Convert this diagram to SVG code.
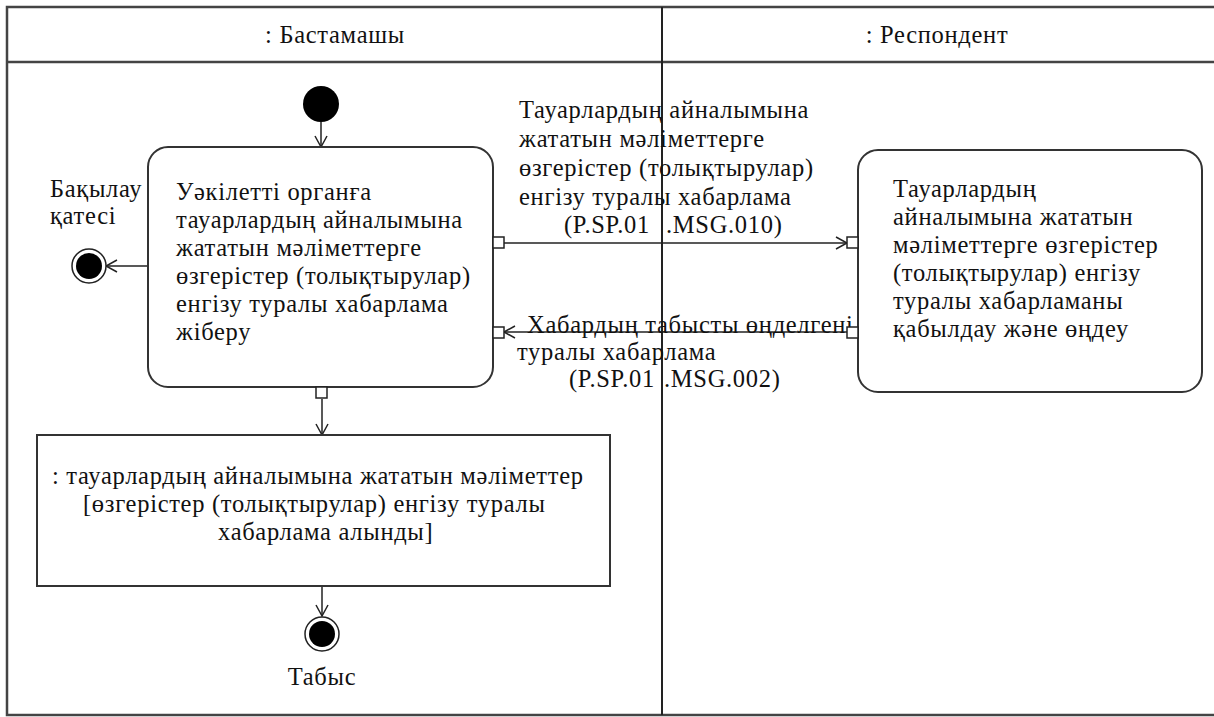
<svg xmlns="http://www.w3.org/2000/svg" width="1214" height="717" viewBox="0 0 1214 717">
<style>
.t{font-family:"Liberation Serif","Times New Roman",serif;font-size:24.5px;letter-spacing:0.7px;fill:#111}
.ln{stroke:#222;stroke-width:1.5;fill:none}
.box{fill:#fff;stroke:#333;stroke-width:2}
.port{fill:#fff;stroke:#222;stroke-width:1.5}
</style>
<defs>
<marker id="open" markerWidth="14" markerHeight="14" refX="12" refY="7" orient="auto" markerUnits="userSpaceOnUse">
<path d="M1,1 L12,7 L1,13" fill="none" stroke="#222" stroke-width="1.5"/>
</marker>
</defs>
<rect width="1214" height="717" fill="#fff"/>
<g id="lanes">
<rect x="7" y="7" width="1215" height="708" fill="none" stroke="#444" stroke-width="2.5"/>
<line x1="7" y1="62" x2="1214" y2="62" stroke="#444" stroke-width="2.5"/>
<line x1="662" y1="7" x2="662" y2="715" stroke="#222" stroke-width="2"/>
<text class="t" x="335" y="43" text-anchor="middle">: Бастамашы</text>
<text class="t" x="937" y="43" text-anchor="middle">: Респондент</text>
</g>
<g id="connectors">
<line class="ln" x1="321" y1="122" x2="321" y2="147" marker-end="url(#open)"/>
<line class="ln" x1="147" y1="266" x2="106" y2="266" marker-end="url(#open)"/>
<line class="ln" x1="504" y1="243" x2="847" y2="243" marker-end="url(#open)"/>
<line class="ln" x1="847" y1="332" x2="504" y2="332" marker-end="url(#open)"/>
<line class="ln" x1="322" y1="399" x2="322" y2="435" marker-end="url(#open)"/>
<line class="ln" x1="322" y1="586" x2="322" y2="616" marker-end="url(#open)"/>
<g class="t">
<text x="519" y="118">Тауарлардың айналымына</text>
<text x="519" y="147">жататын мәліметтерге</text>
<text x="519" y="176">өзгерістер (толықтырулар)</text>
<text x="519" y="205">енгізу туралы хабарлама</text>
<text y="233"><tspan x="564">(P.SP.01</tspan><tspan x="666">.MSG.010)</tspan></text>
<text x="527" y="333">Хабардың табысты өңделгені</text>
<text x="517" y="360">туралы хабарлама</text>
<text y="387"><tspan x="569">(P.SP.01</tspan><tspan x="664">.MSG.002)</tspan></text>
</g>
</g>
<g id="start">
<circle cx="321" cy="104" r="18" fill="#000"/>
</g>
<g id="send">
<rect class="box" x="148" y="147" width="345" height="240" rx="20"/>
<g class="t">
<text x="176" y="200">Уәкілетті органға</text>
<text x="176" y="228">тауарлардың айналымына</text>
<text x="176" y="256">жататын мәліметтерге</text>
<text x="176" y="284">өзгерістер (толықтырулар)</text>
<text x="176" y="312">енгізу туралы хабарлама</text>
<text x="176" y="340">жіберу</text>
</g>
<rect class="port" x="493" y="237" width="11" height="11"/>
<rect class="port" x="493" y="327" width="11" height="11"/>
<rect class="port" x="316" y="387" width="11" height="11"/>
</g>
<g id="receive">
<rect class="box" x="858" y="150" width="344" height="242" rx="20"/>
<g class="t">
<text x="893" y="197">Тауарлардың</text>
<text x="893" y="225">айналымына жататын</text>
<text x="893" y="253">мәліметтерге өзгерістер</text>
<text x="893" y="281">(толықтырулар) енгізу</text>
<text x="893" y="309">туралы хабарламаны</text>
<text x="893" y="337">қабылдау және өңдеу</text>
</g>
<rect class="port" x="847" y="237" width="11" height="11"/>
<rect class="port" x="847" y="327" width="11" height="11"/>
</g>
<g id="object">
<rect x="37" y="435" width="573" height="151" fill="#fff" stroke="#333" stroke-width="2"/>
<g class="t">
<text x="52" y="484">: тауарлардың айналымына жататын мәліметтер</text>
<text x="83" y="512">[өзгерістер (толықтырулар) енгізу туралы</text>
<text x="218" y="540">хабарлама алынды]</text>
</g>
</g>
<g id="error" class="t">
<circle cx="89" cy="266" r="17" fill="#fff" stroke="#222" stroke-width="1.5"/>
<circle cx="89" cy="266" r="13" fill="#000"/>
<text x="50" y="197">Бақылау</text>
<text x="50" y="224">қатесі</text>
</g>
<g id="success" class="t">
<circle cx="322" cy="634" r="17" fill="#fff" stroke="#222" stroke-width="1.5"/>
<circle cx="322" cy="634" r="13" fill="#000"/>
<text x="322" y="685" text-anchor="middle">Табыс</text>
</g>
</svg>
